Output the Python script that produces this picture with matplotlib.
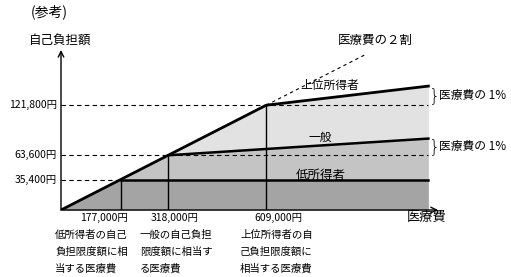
import matplotlib
matplotlib.use("Agg")
import matplotlib.pyplot as plt
import numpy as np

plt.rcParams['font.family'] = ['Noto Sans CJK JP', 'DejaVu Sans']

# --- data (yen) ---
rate = 0.2                      # 医療費の２割
thresholds = [177000, 318000, 609000]   # 医療費 where each limit is reached
limits = [35400, 63600, 121800]         # 自己負担限度額
x_end = 1090000
general_end = 83000            # 一般 at right edge
upper_end = 144000             # 上位所得者 at right edge
ytick_labels = ['35,400円', '63,600円', '121,800円']
xtick_labels = ['177,000円', '318,000円', '609,000円']
notes = [['低所得者の自己', '負担限度額に相', '当する医療費'],
         ['一般の自己負担', '限度額に相当す', 'る医療費'],
         ['上位所得者の自', '己負担限度額に', '相当する医療費']]

W, H = 511, 277
fig = plt.figure(figsize=(W / 100, H / 100), dpi=100)
ax = fig.add_axes([61 / W, (H - 210) / H, 379 / W, 165 / H])
ax.set_xlim(0, 1124500)
ax.set_ylim(0, 191750)
ax.axis('off')


def px(x, y):
    return x / W, 1 - y / H


x = np.linspace(0, x_end, 2000)
diag = rate * x
low = np.minimum(diag, limits[0])
gen_line = np.interp(x, [thresholds[1], x_end], [limits[1], general_end])
upp_line = np.interp(x, [thresholds[2], x_end], [limits[2], upper_end])
gen = np.minimum(diag, gen_line)
upp = np.minimum(diag, upp_line)

ax.fill_between(x, 0, low, color='#a4a4a4', lw=0)
m1 = x >= thresholds[0]
ax.fill_between(x[m1], limits[0], gen[m1], color='#c4c4c4', lw=0)
m2 = x >= thresholds[1]
ax.fill_between(x[m2], gen[m2], upp[m2], color='#e2e2e2', lw=0)

# dashed guides
ax.plot([0, thresholds[0]], [limits[0]] * 2, 'k--', lw=0.8, dashes=(4, 3))
ax.plot([0, x_end], [limits[1]] * 2, 'k--', lw=0.8, dashes=(4, 3))
ax.plot([0, x_end], [limits[2]] * 2, 'k--', lw=0.8, dashes=(4, 3))
ax.plot([thresholds[2], 905000], [limits[2], rate * 905000], 'k--', lw=0.8, dashes=(3, 3))

# verticals
for t, l in zip(thresholds, limits):
    ax.plot([t, t], [0, l], 'k-', lw=1)

# thick lines
ax.plot([thresholds[0], x_end], [limits[0]] * 2, 'k-', lw=1.8)
ax.plot([thresholds[1], x_end], [limits[1], general_end], 'k-', lw=1.8)
ax.plot([0, thresholds[2], x_end], [0, limits[2], upper_end], 'k-', lw=2.0)

# axes arrows
ax.annotate('', xy=(0, 186000), xytext=(0, 0),
            arrowprops=dict(arrowstyle='->', lw=1, color='k', shrinkA=0, shrinkB=0),
            annotation_clip=False)
ax.annotate('', xy=(1118500, 0), xytext=(0, 0),
            arrowprops=dict(arrowstyle='->', lw=1, color='k', shrinkA=0, shrinkB=0),
            annotation_clip=False)

# y tick labels
for l, s in zip(limits, ytick_labels):
    ax.annotate(s, xy=(0, l), xytext=(-3, 0), textcoords='offset points',
                ha='right', va='center', fontsize=7.5, annotation_clip=False)

# braces
for lo, hi in [(limits[2], upper_end), (limits[1], general_end)]:
    ax.text(x_end + 2000, (lo + hi) / 2, '}', ha='left', va='center',
            fontsize=13, family='DejaVu Sans', fontweight='light')
    ax.text(x_end + 32000, (lo + hi) / 2, '医療費の 1%', ha='left', va='center', fontsize=8.5)

# texts
fig.text(*px(31, 12), '(参考)', ha='left', va='center', fontsize=10)
fig.text(*px(60, 40), '自己負担額', ha='center', va='center', fontsize=9)
fig.text(*px(375, 40), '医療費の２割', ha='center', va='center', fontsize=9)
fig.text(*px(330, 85), '上位所得者', ha='center', va='center', fontsize=8.5)
fig.text(*px(320, 137), '一般', ha='center', va='center', fontsize=8.5)
fig.text(*px(321, 175), '低所得者', ha='center', va='center', fontsize=9)
fig.text(*px(427, 218), '医療費', ha='center', va='center', fontsize=9.5)

value_x = [128, 199, 302]
note_x = [55, 140, 240]
for vx, nx, s, lines in zip(value_x, note_x, xtick_labels, notes):
    fig.text(*px(vx, 218), s, ha='right', va='center', fontsize=7.5)
    for i, line in enumerate(lines):
        fig.text(*px(nx, 235 + 17 * i), line, ha='left', va='center', fontsize=7.5)

fig.savefig('out.png', dpi=100)
